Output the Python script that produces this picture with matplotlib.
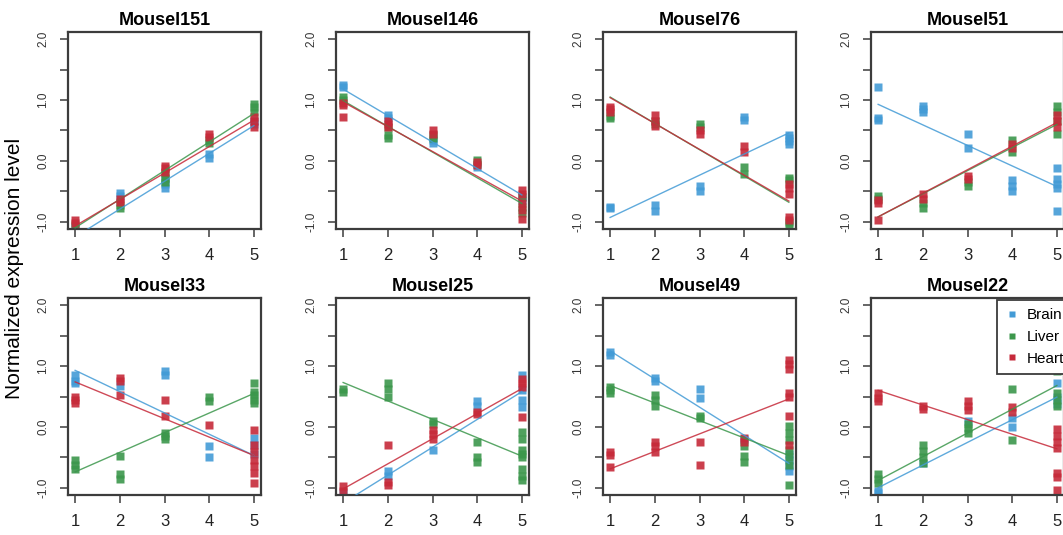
import matplotlib
matplotlib.use("Agg")  # no display
import matplotlib.pyplot as plt
from matplotlib.lines import Line2D

plt.rcParams["font.family"] = ["Liberation Sans", "DejaVu Sans"]
plt.rcParams["axes.unicode_minus"] = False

mice = ["Mousel151", "Mousel146", "Mousel76", "Mousel51",
        "Mousel33", "Mousel25", "Mousel49", "Mousel22"]
tissues = ["Brain", "Liver", "Heart"]
days = [1, 2, 3, 4, 5]
tissue_colors = {"Brain": "#439bd6", "Liver": "#3c974c", "Heart": "#c62a3a"}

# replicate values at each day, one dict per mouse
mousel151 = {
    "Brain": [[-1.08], [-0.52, -0.58], [-0.30, -0.38, -0.45], [0.05, 0.12], [0.60, 0.65]],
    "Liver": [[-1.05], [-0.72, -0.78], [-0.20, -0.28, -0.35], [0.30, 0.35], [0.80, 0.88, 0.93]],
    "Heart": [[-0.98, -1.02], [-0.62, -0.68], [-0.08, -0.12, -0.18], [0.40, 0.45], [0.55, 0.65, 0.72]],
}
mousel146 = {
    "Brain": [[1.25, 1.22], [0.75, 0.70], [0.30, 0.35], [-0.10], [-0.60, -0.65]],
    "Liver": [[1.05, 1.00], [0.55, 0.42, 0.38], [0.38, 0.42], [0.02, -0.05], [-0.60, -0.75, -0.85]],
    "Heart": [[0.95, 0.92, 0.72], [0.65, 0.60, 0.55], [0.45, 0.50], [-0.02, -0.07],
              [-0.48, -0.55, -0.70, -0.80, -0.95]],
}
mousel76 = {
    "Brain": [[-0.75, -0.77], [-0.72, -0.82], [-0.42, -0.50], [0.68, 0.72], [0.42, 0.38, 0.32, 0.28]],
    "Liver": [[0.70, 0.74], [0.60, 0.65], [0.55, 0.60], [-0.10, -0.22], [-0.28, -0.32, -1.00, -1.05]],
    "Heart": [[0.80, 0.85, 0.88], [0.58, 0.65, 0.75], [0.45, 0.50], [0.25, 0.15],
              [-0.38, -0.45, -0.55, -0.92, -0.98]],
}
mousel51 = {
    "Brain": [[1.21, 0.70, 0.68], [0.90, 0.85, 0.80], [0.45, 0.22], [-0.32, -0.42, -0.50],
              [-0.12, -0.30, -0.38, -0.45, -0.82]],
    "Liver": [[-0.58, -0.62], [-0.70, -0.78], [-0.35, -0.42], [0.35, 0.15], [0.90, 0.80, 0.65, 0.45]],
    "Heart": [[-0.65, -0.70, -0.97], [-0.55, -0.62], [-0.25, -0.30], [0.28, 0.22], [0.75, 0.65, 0.55]],
}
mousel33 = {
    "Brain": [[0.85, 0.75, 0.72], [0.68], [0.92, 0.85], [-0.32, -0.50], [-0.18, -0.30, -0.45]],
    "Liver": [[-0.55, -0.62, -0.70], [-0.48, -0.78, -0.85], [-0.10, -0.15, -0.20], [0.50, 0.43],
              [0.72, 0.58, 0.52, 0.45, 0.40]],
    "Heart": [[0.50, 0.45, 0.40], [0.80, 0.75, 0.52], [0.45, 0.18], [0.03],
              [-0.05, -0.30, -0.42, -0.55, -0.65, -0.75, -0.92]],
}
mousel25 = {
    "Brain": [[-1.08], [-0.72, -0.80], [-0.38], [0.42, 0.35], [0.85, 0.60, 0.45, 0.33]],
    "Liver": [[0.62, 0.57], [0.72, 0.62, 0.50], [0.10, 0.05], [-0.25, -0.50, -0.58],
              [-0.08, -0.20, -0.38, -0.45, -0.50, -0.70, -0.80, -0.88]],
    "Heart": [[-0.98, -1.05], [-0.30, -0.90, -0.96], [-0.05, -0.12, -0.20], [0.25, 0.22],
              [0.78, 0.72, 0.65, 0.16]],
}
mousel49 = {
    "Brain": [[1.23, 1.18], [0.80, 0.75], [0.62, 0.48], [-0.20], [-0.45, -0.55, -0.65, -0.72]],
    "Liver": [[0.65, 0.60, 0.55], [0.52, 0.45, 0.35], [0.18, 0.14], [-0.32, -0.48, -0.57],
              [0.02, -0.10, -0.22, -0.38, -0.50, -0.62, -0.96]],
    "Heart": [[-0.42, -0.47, -0.66], [-0.25, -0.32, -0.42], [-0.25, -0.63], [-0.18, -0.25],
              [1.10, 1.03, 0.95, 0.55, 0.50, 0.18, -0.30]],
}
mousel22 = {
    "Brain": [[-1.05, -1.08], [-0.60], [0.10], [0.15, 0.00], [0.72, 0.50, 0.38]],
    "Liver": [[-0.78, -0.85, -0.92], [-0.30, -0.40, -0.50, -0.60], [0.05, -0.02, -0.10], [0.63, -0.22],
              [1.07, 0.92, 0.55, 0.45, 0.35]],
    "Heart": [[0.55, 0.48, 0.42], [0.35, 0.30], [0.42, 0.35, 0.28], [0.32, 0.25],
              [-0.03, -0.15, -0.25, -0.35, -0.75, -0.82, -1.04]],
}
mouse_data = [mousel151, mousel146, mousel76, mousel51,
              mousel33, mousel25, mousel49, mousel22]

# fitted trend value at day 1 and day 5, same mouse order as above
fit_day1 = {
    "Brain": [-1.25, 1.18, -0.93, 0.93, 0.93, -1.25, 1.25, -1.00],
    "Liver": [-1.10, 0.99, 1.05, -0.92, -0.74, 0.73, 0.68, -0.88],
    "Heart": [-1.07, 0.97, 1.04, -0.92, 0.74, -1.02, -0.69, 0.60],
}
fit_day5 = {
    "Brain": [0.58, -0.56, 0.46, -0.42, -0.47, 0.58, -0.60, 0.49],
    "Liver": [0.78, -0.70, -0.68, 0.60, 0.55, -0.48, -0.47, 0.68],
    "Heart": [0.67, -0.66, -0.66, 0.63, -0.47, 0.63, 0.46, -0.36],
}

W, H = 1063, 535
fig = plt.figure(figsize=(W / 100, H / 100), dpi=100)

col_left = [68, 336, 603, 871]
row_top = [32, 298]
ax_w, ax_h = 193, 197
frame_color = "#3c3c3c"

for i, name in enumerate(mice):
    r, c = divmod(i, 4)
    left = col_left[c] / W
    bottom = 1 - (row_top[r] + ax_h) / H
    ax = fig.add_axes([left, bottom, ax_w / W, ax_h / H])

    data = mouse_data[i]
    for t in tissues:
        xs, ys = [], []
        for d, vals in zip(days, data[t]):
            xs += [d] * len(vals)
            ys += vals
        ax.plot(xs, ys, "s", ms=5.1, color=tissue_colors[t], alpha=0.9,
                mec="none", zorder=2)
    for t in tissues:
        ax.plot([days[0], days[-1]], [fit_day1[t][i], fit_day5[t][i]],
                color=tissue_colors[t], lw=1.0, alpha=0.85, zorder=3)

    ax.set_xlim(0.84, 5.16)
    ax.set_ylim(-1.12, 2.12)
    ax.set_xticks(days)
    ax.set_yticks([-1, -0.5, 0, 0.5, 1, 1.5, 2])
    ax.set_yticklabels(["-1.0", "", "0.0", "", "1.0", "", "2.0"],
                       rotation=90, va="center", fontsize=8.5, color="#333333")
    ax.tick_params(axis="x", labelsize=12, pad=8, labelcolor="#222222")
    ax.tick_params(axis="y", pad=8)
    ax.tick_params(direction="out", length=5.5, width=1.1, color=frame_color)
    for sp in ax.spines.values():
        sp.set_color(frame_color)
        sp.set_linewidth(1.6)
    ax.set_title(name, fontsize=13, fontweight="bold", pad=5)

    if name == "Mousel22":
        handles = [Line2D([], [], ls="none", marker="s", ms=4.6,
                          color=tissue_colors[t], mec="none") for t in tissues]
        leg = ax.legend(handles, tissues, loc="upper right", fontsize=11,
                        bbox_to_anchor=(1 + 9 / ax_w, 1 - 2 / ax_h),
                        frameon=True, fancybox=False, borderaxespad=0,
                        handlelength=0.8, handletextpad=0.6, labelspacing=0.5,
                        borderpad=0.55)
        leg.get_frame().set_edgecolor(frame_color)
        leg.get_frame().set_linewidth(1.3)
        leg.get_frame().set_alpha(1)

fig.text(15 / W, 1 - 268 / H, "Normalized expression level", rotation=90,
         ha="center", va="center", fontsize=15)

fig.savefig("out.png", dpi=100)
